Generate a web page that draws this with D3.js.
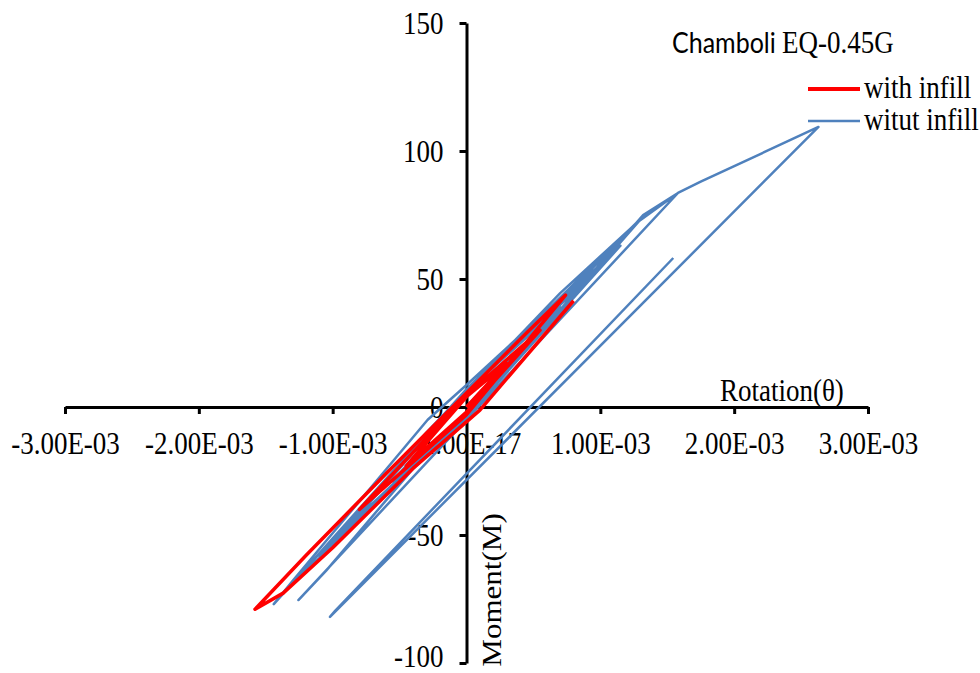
<!DOCTYPE html>
<html>
<head>
<meta charset="utf-8">
<script src="https://cdn.jsdelivr.net/npm/d3@7"></script>
<style>
    body { margin: 0; background: #fff; }
    .tick-text { font-family: "Liberation Serif", "Times New Roman", serif; font-size: 27px; fill: #000; }
</style>
</head>
<body>
<div id="chart"></div>
<script>
// Axis ticks and labels
const rotationTicks = [-3e-3, -2e-3, -1e-3, 0, 1e-3, 2e-3, 3e-3];
const rotationTickLabels = ["-3.00E-03", "-2.00E-03", "-1.00E-03", "-1.00E-17", "1.00E-03", "2.00E-03", "3.00E-03"];
const momentTicks = [-100, -50, 0, 50, 100, 150];

// Series names
const seriesNames = ["with infill", "witut infill"];

// "witut infill" hysteresis, rotation in units of 1E-03
const blueRotation = [0, 0.40, 0, -0.55, 0, 0.70, 0, -0.85, 0, 0.95, 0, -1.10, 0, 1.15, 0, -1.30, 0,
    1.33, 0, -1.44, -1.30, -0.29, 0.00, 0.90, 1.28, 0.70, -0.30, -1.05, 0, 1.32, 1.58,
    -1.256, -1.05, -0.30, 0.30, 1.00, 1.28, 1.58, 1.75, 2.63, -1.02, -0.98, 1.545];
const blueMoment = [0, 23, 5, -29, -2, 39, 6, -45, -3, 52, 6, -58, -4, 63, 7, -69, -4,
    75, 7, -77, -68, -5, 8.6, 52, 72.3, 44.5, -10, -57, -4, 75, 83.6,
    -75.4, -64, -18, 14, 56, 72.3, 83.6, 88, 109.4, -82, -79.5, 58.2];

// "with infill" hysteresis, rotation in units of 1E-03
const redRotation = [0, 0.30, 0, -0.45, 0, 0.55, 0, -0.80, 0, 0.74, 0.45, 0.00,
    -0.60, -1.20, -1.58, -1.37, -1.00, -0.40, 0.10, 0.80];
const redMoment = [0, 17, 4, -23, -2, 30, 4.5, -40, -3, 43.7, 29, 5.5,
    -26, -58, -79, -72.7, -55, -24, -1.2, 41.5];

const width = 980;
const height = 673;
const stretch = "scale(1,1.15)"; // text in the picture is a bit taller than wide

const svg = d3.select("#chart")
    .append("svg")
    .attr("width", width)
    .attr("height", height);

svg.append("rect").attr("width", width).attr("height", height).attr("fill", "#fff");

// Scales
const x = d3.scaleLinear().domain([-3e-3, 3e-3]).range([65, 868]);
const y = d3.scaleLinear().domain([-100, 150]).range([663, 23]);

// X axis through zero moment
const xAxis = svg.append("g")
    .attr("transform", `translate(0, ${y(0)})`)
    .call(d3.axisBottom(x)
        .tickValues(rotationTicks)
        .tickFormat((d, i) => rotationTickLabels[i])
        .tickSize(7)
        .tickSizeOuter(0));

xAxis.select(".domain").attr("stroke", "#000").attr("stroke-width", 3);
xAxis.selectAll(".tick line").attr("stroke", "#000").attr("stroke-width", 3);
xAxis.selectAll(".tick text")
    .attr("class", "tick-text")
    .attr("y", null)
    .attr("dy", null)
    .attr("transform", `translate(0, 47) ${stretch}`);

// Y axis through zero rotation
const yAxis = svg.append("g")
    .attr("transform", `translate(${x(0)}, 0)`)
    .call(d3.axisLeft(y)
        .tickValues(momentTicks)
        .tickFormat(d => String(d))
        .tickSize(7)
        .tickSizeOuter(0));

yAxis.select(".domain").attr("stroke", "#000").attr("stroke-width", 3);
yAxis.selectAll(".tick line").attr("stroke", "#000").attr("stroke-width", 3);
yAxis.selectAll(".tick text")
    .attr("class", "tick-text")
    .attr("x", null)
    .attr("dy", null)
    .attr("text-anchor", "end")
    // keep the bottom label inside the picture
    .attr("transform", d => `translate(-23, ${Math.min(10, height - 7 - y(d))}) ${stretch}`);

// Build point lists
const bluePoints = blueRotation.map((r, i) => [r * 1e-3, blueMoment[i]]);
const redPoints = redRotation.map((r, i) => [r * 1e-3, redMoment[i]]);

const line = d3.line()
    .x(d => x(d[0]))
    .y(d => y(d[1]));

svg.append("path")
    .datum(bluePoints)
    .attr("d", line)
    .attr("fill", "none")
    .attr("stroke", "#4f81bd")
    .attr("stroke-width", 2.5)
    .attr("stroke-linejoin", "round");

svg.append("path")
    .datum(redPoints)
    .attr("d", line)
    .attr("fill", "none")
    .attr("stroke", "#ff0000")
    .attr("stroke-width", 3.5)
    .attr("stroke-linejoin", "round");

// Axis titles
svg.append("text")
    .attr("class", "tick-text")
    .attr("transform", `translate(720, 401) ${stretch}`)
    .text("Rotation(θ)");

svg.append("text")
    .attr("class", "tick-text")
    .attr("text-anchor", "middle")
    .attr("transform", `translate(501, 590) ${stretch} rotate(-90)`)
    .text("Moment(M)");

// Chart title
const title = svg.append("text")
    .attr("transform", `translate(672, 53) ${stretch}`);
title.append("tspan")
    .attr("font-family", "Lato, 'Noto Sans', sans-serif")
    .attr("font-size", "25px")
    .text("Chamboli ");
title.append("tspan")
    .attr("font-family", "'Liberation Serif', serif")
    .attr("font-size", "27px")
    .text("EQ-0.45G");

// Legend
const legendColors = ["#ff0000", "#4f81bd"];
const legendWidths = [4, 2.5];
const legendY = [89, 121];

seriesNames.forEach((name, i) => {
    svg.append("line")
        .attr("x1", 808)
        .attr("x2", 860)
        .attr("y1", legendY[i])
        .attr("y2", legendY[i])
        .attr("stroke", legendColors[i])
        .attr("stroke-width", legendWidths[i]);

    svg.append("text")
        .attr("class", "tick-text")
        .attr("transform", `translate(864, ${legendY[i] + 9}) ${stretch}`)
        .text(name);
});
</script>
</body>
</html>
